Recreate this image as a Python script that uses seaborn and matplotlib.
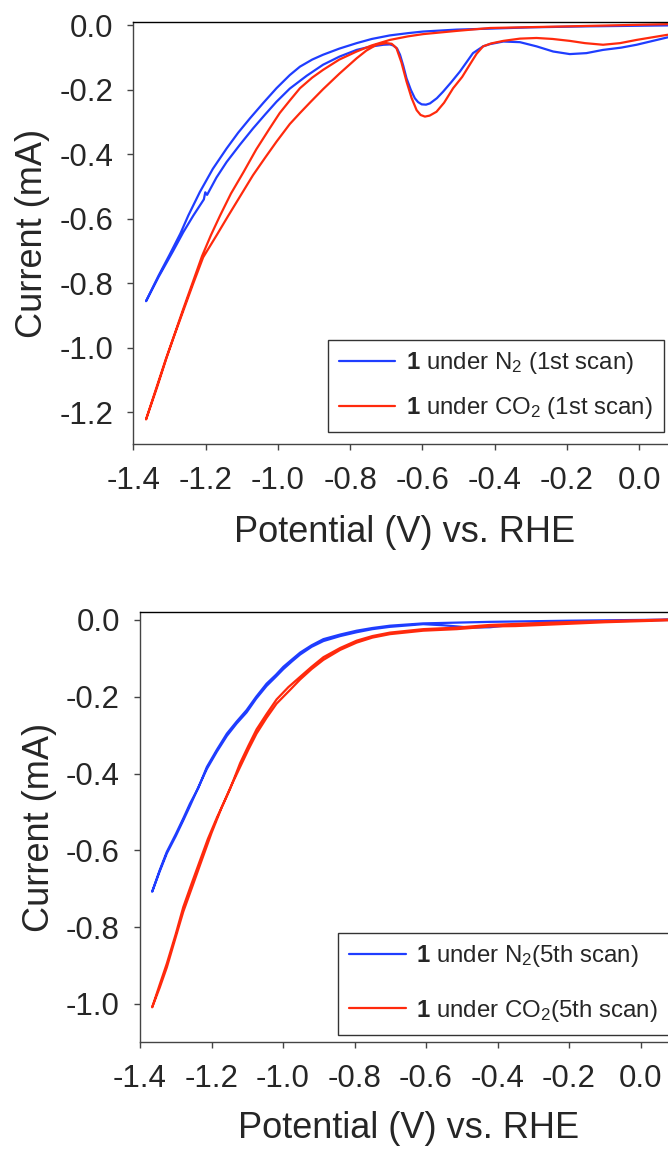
import numpy as np
import pandas as pd
import seaborn as sns
import matplotlib
matplotlib.use("Agg")
import matplotlib.pyplot as plt

# ---------------- data: cyclic voltammograms of compound 1 ----------------
# Each scan: cathodic sweep (0.08 V -> -1.37 V) followed by the anodic return.

# 1st scan, N2
n2_1_fwd_v = [0.079, -0.007, -0.050, -0.100, -0.146, -0.192, -0.238, -0.284, -0.330, -0.376,
              -0.413, -0.432, -0.460, -0.496, -0.520, -0.543, -0.560, -0.579, -0.590, -0.602,
              -0.612, -0.621, -0.632, -0.644, -0.653, -0.662, -0.670, -0.681, -0.690, -0.708,
              -0.745, -0.782, -0.830, -0.875, -0.920, -0.967, -1.004, -1.035, -1.069, -1.105,
              -1.142, -1.170, -1.196, -1.201, -1.205, -1.234, -1.262, -1.290, -1.330, -1.365]
n2_1_fwd_i = [-0.037, -0.060, -0.069, -0.076, -0.086, -0.089, -0.081, -0.065, -0.052, -0.050,
              -0.058, -0.065, -0.086, -0.143, -0.176, -0.206, -0.226, -0.242, -0.246, -0.245,
              -0.238, -0.226, -0.200, -0.164, -0.125, -0.091, -0.072, -0.062, -0.059, -0.060,
              -0.066, -0.076, -0.097, -0.122, -0.156, -0.196, -0.237, -0.276, -0.320, -0.370,
              -0.424, -0.472, -0.526, -0.518, -0.540, -0.590, -0.642, -0.700, -0.780, -0.856]
n2_1_rev_v = [-1.365, -1.330, -1.300, -1.270, -1.248, -1.216, -1.180, -1.142, -1.110, -1.077,
              -1.040, -1.004, -0.967, -0.939, -0.905, -0.875, -0.830, -0.782, -0.740, -0.690,
              -0.640, -0.598, -0.505, -0.413, -0.300, -0.150, 0.000, 0.079]
n2_1_rev_i = [-0.856, -0.776, -0.712, -0.646, -0.590, -0.517, -0.445, -0.382, -0.333, -0.288,
              -0.240, -0.195, -0.154, -0.128, -0.106, -0.091, -0.072, -0.055, -0.042, -0.031,
              -0.024, -0.019, -0.013, -0.010, -0.006, -0.003, -0.001, 0.000]

# 1st scan, CO2
co2_1_fwd_v = [0.079, -0.007, -0.053, -0.100, -0.150, -0.192, -0.240, -0.284, -0.330, -0.376,
               -0.410, -0.432, -0.450, -0.469, -0.490, -0.515, -0.540, -0.561, -0.580, -0.593,
               -0.605, -0.616, -0.630, -0.644, -0.658, -0.672, -0.685, -0.699, -0.727, -0.755,
               -0.782, -0.830, -0.875, -0.910, -0.939, -0.967, -1.004, -1.035, -1.069, -1.100,
               -1.137, -1.170, -1.207, -1.235, -1.262, -1.285, -1.308, -1.335, -1.365]
co2_1_fwd_i = [-0.029, -0.045, -0.055, -0.060, -0.055, -0.048, -0.042, -0.039, -0.041, -0.048,
               -0.056, -0.065, -0.088, -0.122, -0.160, -0.195, -0.240, -0.268, -0.280, -0.283,
               -0.278, -0.263, -0.225, -0.174, -0.115, -0.070, -0.057, -0.055, -0.060, -0.078,
               -0.102, -0.150, -0.198, -0.238, -0.272, -0.306, -0.361, -0.410, -0.465, -0.522,
               -0.590, -0.652, -0.720, -0.803, -0.886, -0.957, -1.031, -1.125, -1.223]
co2_1_rev_v = [-1.365, -1.335, -1.310, -1.285, -1.262, -1.235, -1.210, -1.185, -1.160, -1.130,
               -1.095, -1.060, -1.023, -0.995, -0.967, -0.939, -0.905, -0.875, -0.830, -0.782,
               -0.740, -0.690, -0.640, -0.598, -0.505, -0.413, -0.200, 0.000, 0.079]
co2_1_rev_i = [-1.223, -1.120, -1.035, -0.955, -0.880, -0.795, -0.716, -0.650, -0.590, -0.522,
               -0.455, -0.385, -0.320, -0.272, -0.233, -0.195, -0.162, -0.138, -0.106, -0.081,
               -0.062, -0.045, -0.034, -0.027, -0.017, -0.008, -0.003, 0.002, 0.004]

# 5th scan, N2
n2_5_fwd_v = [0.077, -0.100, -0.250, -0.350, -0.421, -0.475, -0.550, -0.608, -0.701, -0.750,
              -0.794, -0.840, -0.887, -0.920, -0.952, -0.975, -0.999, -1.020, -1.046, -1.075,
              -1.102, -1.130, -1.157, -1.185, -1.213, -1.237, -1.260, -1.279, -1.300, -1.325,
              -1.345, -1.366]
n2_5_fwd_i = [0.000, -0.004, -0.008, -0.012, -0.019, -0.020, -0.014, -0.011, -0.018, -0.024,
              -0.032, -0.042, -0.055, -0.070, -0.090, -0.108, -0.128, -0.148, -0.172, -0.205,
              -0.241, -0.270, -0.302, -0.343, -0.388, -0.436, -0.484, -0.522, -0.563, -0.608,
              -0.655, -0.708]
n2_5_rev_v = [-1.366, -1.345, -1.325, -1.300, -1.279, -1.260, -1.237, -1.213, -1.185, -1.157,
              -1.130, -1.102, -1.075, -1.046, -1.020, -0.999, -0.975, -0.952, -0.920, -0.887,
              -0.840, -0.794, -0.750, -0.701, -0.608, -0.421, -0.200, 0.000, 0.077]
n2_5_rev_i = [-0.708, -0.652, -0.604, -0.558, -0.517, -0.478, -0.438, -0.383, -0.338, -0.296,
              -0.265, -0.235, -0.200, -0.166, -0.143, -0.122, -0.103, -0.085, -0.066, -0.050,
              -0.038, -0.028, -0.021, -0.015, -0.009, -0.005, -0.002, 0.000, 0.001]

# 5th scan, CO2
co2_5_fwd_v = [0.077, -0.100, -0.250, -0.350, -0.421, -0.514, -0.608, -0.701, -0.750, -0.794,
               -0.840, -0.887, -0.920, -0.952, -0.980, -1.018, -1.046, -1.074, -1.097, -1.120,
               -1.145, -1.171, -1.200, -1.232, -1.255, -1.279, -1.300, -1.325, -1.345, -1.366]
co2_5_fwd_i = [-0.001, -0.006, -0.012, -0.016, -0.017, -0.024, -0.028, -0.037, -0.046, -0.059,
               -0.078, -0.104, -0.128, -0.155, -0.182, -0.218, -0.255, -0.296, -0.338, -0.383,
               -0.432, -0.487, -0.555, -0.638, -0.698, -0.760, -0.826, -0.905, -0.958, -1.009]
co2_5_rev_v = [-1.366, -1.345, -1.325, -1.300, -1.279, -1.255, -1.232, -1.210, -1.185, -1.165,
               -1.148, -1.120, -1.097, -1.074, -1.046, -1.018, -0.985, -0.952, -0.920, -0.887,
               -0.840, -0.794, -0.750, -0.701, -0.608, -0.514, -0.421, -0.250, -0.100, 0.077]
co2_5_rev_i = [-1.009, -0.950, -0.895, -0.818, -0.748, -0.685, -0.626, -0.570, -0.515, -0.475,
               -0.440, -0.373, -0.328, -0.285, -0.245, -0.207, -0.175, -0.148, -0.122, -0.097,
               -0.073, -0.054, -0.042, -0.033, -0.024, -0.020, -0.013, -0.007, -0.003, 0.001]

x_ticks = [-1.4, -1.2, -1.0, -0.8, -0.6, -0.4, -0.2, 0.0]
y_ticks_top = [0.0, -0.2, -0.4, -0.6, -0.8, -1.0, -1.2]
y_ticks_bottom = [0.0, -0.2, -0.4, -0.6, -0.8, -1.0]

labels_top = [r"$\mathbf{1}$ under N$_2$ (1st scan)", r"$\mathbf{1}$ under CO$_2$ (1st scan)"]
labels_bottom = [r"$\mathbf{1}$ under N$_2$(5th scan)", r"$\mathbf{1}$ under CO$_2$(5th scan)"]

x_label = "Potential (V) vs. RHE"
y_label = "Current (mA)"

BLUE = "#1f3dff"
RED = "#ff2a0d"

# ---------------- style ----------------
sns.set_style("ticks")
plt.rcParams["font.family"] = ["Liberation Sans", "DejaVu Sans"]
plt.rcParams["mathtext.fontset"] = "custom"
plt.rcParams["mathtext.rm"] = "Liberation Sans"
plt.rcParams["mathtext.it"] = "Liberation Sans:italic"
plt.rcParams["mathtext.bf"] = "Liberation Sans:bold"
plt.rcParams["mathtext.default"] = "regular"
plt.rcParams["axes.unicode_minus"] = False


def scan_frame(fv, fi, rv, ri):
    v = list(fv) + list(rv)
    i = list(fi) + list(ri)
    return pd.DataFrame({"potential": v, "current": i, "order": np.arange(len(v))})


def draw_panel(ax, curves, labels, yticks, ylim, legend_anchor, label_spacing,
               xlabel_y, ylabel_x):
    for (fv, fi, rv, ri), color, lab in zip(curves, [BLUE, RED], labels):
        df = scan_frame(fv, fi, rv, ri)
        sns.lineplot(data=df, x="potential", y="current", sort=False, estimator=None,
                     color=color, linewidth=1.6, label=lab, ax=ax)
    ax.set_xlim(-1.4, 0.1)
    ax.set_ylim(*ylim)
    ax.set_xticks(x_ticks)
    ax.set_xticklabels([f"{t:.1f}" for t in x_ticks])
    ax.set_yticks(yticks)
    ax.set_yticklabels([f"{t:.1f}" for t in yticks])
    for s in ["top", "right", "left", "bottom"]:
        ax.spines[s].set_visible(True)
        ax.spines[s].set_linewidth(1.0)
    ax.spines["top"].set_color("black")
    ax.spines["left"].set_color("#444444")
    ax.spines["bottom"].set_color("#444444")
    ax.tick_params(axis="both", which="both", direction="out", length=4.5, width=1.0,
                   color="#444444", labelsize=22.5, top=False, right=False)
    ax.tick_params(axis="x", pad=11)
    ax.tick_params(axis="y", pad=10)
    ax.set_xlabel(x_label, fontsize=26, va="top")
    ax.set_ylabel(y_label, fontsize=26)
    ax.xaxis.set_label_coords(0.5, xlabel_y)
    ax.yaxis.set_label_coords(ylabel_x, 0.5)
    leg = ax.legend(loc="lower right", bbox_to_anchor=legend_anchor, fontsize=17.3,
                    frameon=True, fancybox=False, edgecolor="black", handlelength=2.35,
                    handletextpad=0.45, borderpad=0.45, labelspacing=label_spacing,
                    borderaxespad=0.0)
    leg.get_frame().set_linewidth(1.0)


fig = plt.figure(figsize=(6.68, 11.5), dpi=100)
ax_top = fig.add_axes([0.1997, 0.6137, 0.8112, 0.3670])
ax_bot = fig.add_axes([0.2096, 0.0937, 0.8028, 0.3739])

draw_panel(ax_top,
           [(n2_1_fwd_v, n2_1_fwd_i, n2_1_rev_v, n2_1_rev_i),
            (co2_1_fwd_v, co2_1_fwd_i, co2_1_rev_v, co2_1_rev_i)],
           labels_top, y_ticks_top, (-1.3, 0.01), (0.979, 0.029), 0.78,
           -0.1675, -0.154)

draw_panel(ax_bot,
           [(n2_5_fwd_v, n2_5_fwd_i, n2_5_rev_v, n2_5_rev_i),
            (co2_5_fwd_v, co2_5_fwd_i, co2_5_rev_v, co2_5_rev_i)],
           labels_bottom, y_ticks_bottom, (-1.1, 0.02), (0.986, 0.018), 1.18,
           -0.160, -0.155)

fig.savefig("out.png", dpi=100)
